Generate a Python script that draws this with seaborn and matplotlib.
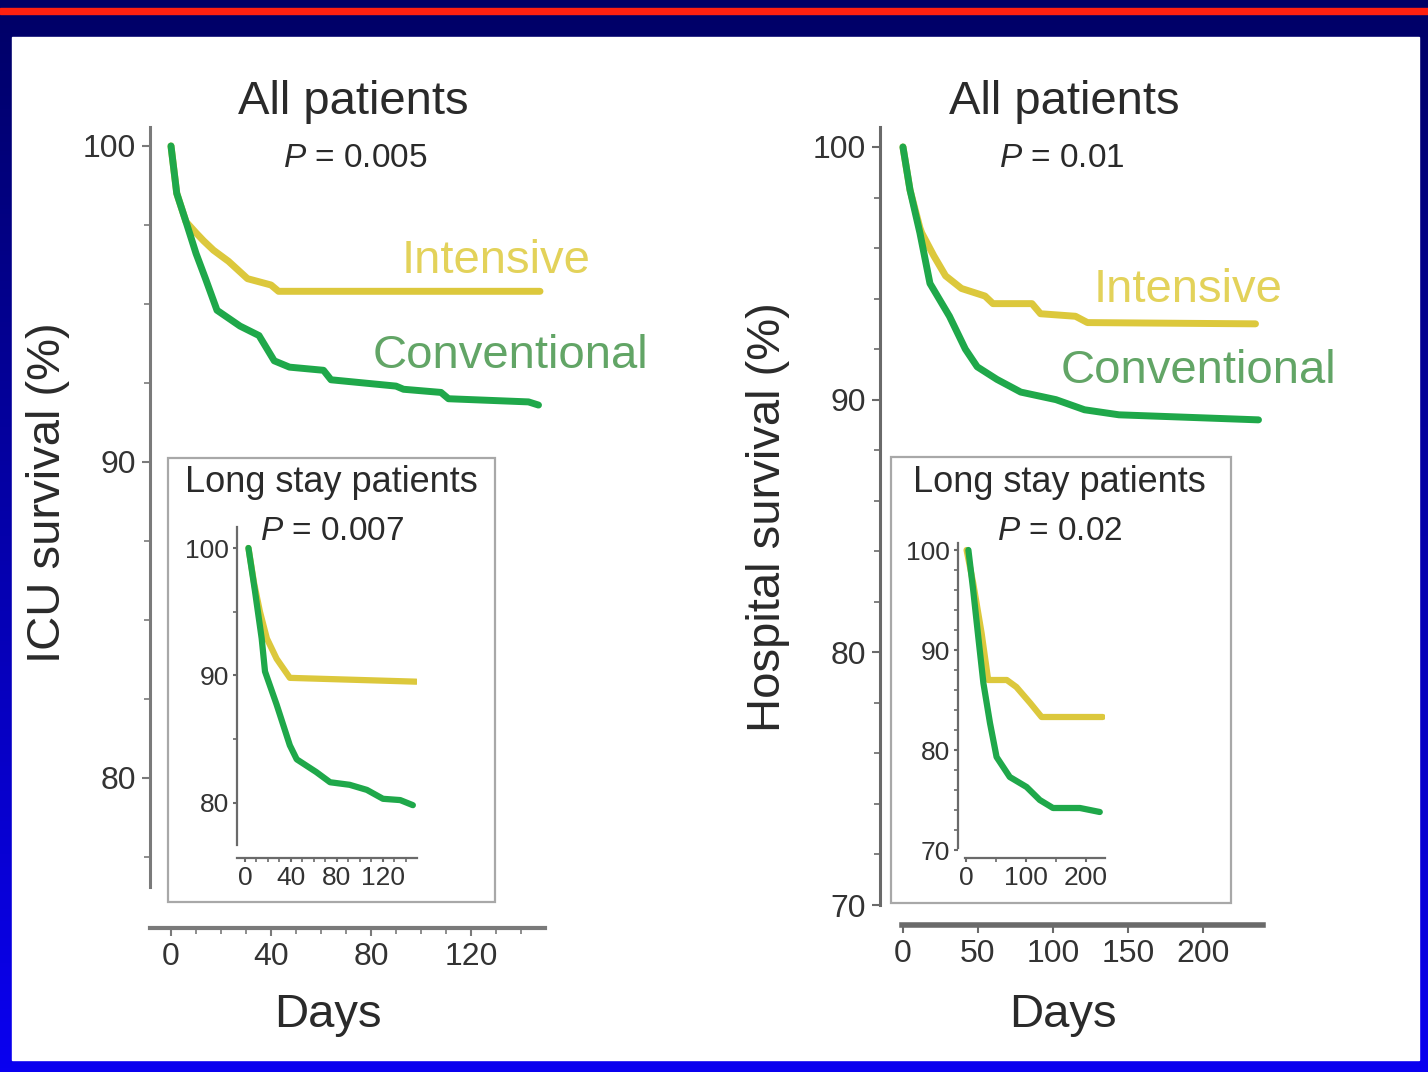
import numpy as np
import matplotlib
matplotlib.use('Agg')
import matplotlib.pyplot as plt
from matplotlib.patches import Rectangle
from matplotlib.colors import LinearSegmentedColormap
from matplotlib.ticker import MultipleLocator
import seaborn as sns

sns.set_style('ticks')
plt.rcParams['font.family'] = ['Liberation Sans', 'DejaVu Sans']
plt.rcParams['mathtext.fontset'] = 'custom'
plt.rcParams['mathtext.it'] = 'Liberation Sans:italic'
plt.rcParams['mathtext.rm'] = 'Liberation Sans'

# ICU survival, all patients
icu_conv_days = [0, 2.3, 6, 10, 13.8, 18.4, 27.6, 35.2, 41.3, 47.4, 61, 64, 90, 93, 108, 111, 143, 147]
icu_conv_surv = [100, 98.5, 97.6, 96.6, 95.8, 94.8, 94.3, 94.0, 93.2, 93.0, 92.9, 92.6, 92.4, 92.3, 92.2, 92.0, 91.9, 91.8]
icu_int_days = [0, 2.3, 6, 10, 13, 17, 23, 30.6, 40, 43, 147.6]
icu_int_surv = [100, 98.5, 97.6, 97.25, 97.0, 96.7, 96.35, 95.8, 95.6, 95.4, 95.4]

# ICU survival, long stay patients (inset)
icu_long_conv_days = [3, 8.7, 14.5, 17.4, 27.5, 39, 45, 62, 74, 91, 106, 120, 135, 146]
icu_long_conv_surv = [100, 96.6, 92.9, 90.3, 87.7, 84.5, 83.4, 82.4, 81.6, 81.4, 81.0, 80.3, 80.2, 79.8]
icu_long_int_days = [3, 8, 13, 19, 27.5, 39, 149]
icu_long_int_surv = [100, 97.2, 95.0, 92.9, 91.3, 89.8, 89.5]

# Hospital survival, all patients
hosp_conv_days = [0, 4.7, 11.3, 18, 31, 41.6, 49.5, 62.7, 78.5, 102, 121, 144, 237]
hosp_conv_surv = [100, 98.3, 96.6, 94.6, 93.3, 92.0, 91.3, 90.8, 90.3, 90.0, 89.6, 89.4, 89.2]
hosp_int_days = [0, 4.7, 11.3, 12.5, 20.5, 28.4, 39, 54.7, 60, 86, 91.7, 115, 123, 235]
hosp_int_surv = [100, 98.3, 96.8, 96.6, 95.7, 94.9, 94.4, 94.1, 93.8, 93.8, 93.4, 93.3, 93.05, 93.0]

# Hospital survival, long stay patients (inset)
hosp_long_conv_days = [4, 12, 20.5, 29, 40, 51, 73, 101, 123, 145, 190, 223]
hosp_long_conv_surv = [100, 96, 91.3, 86.7, 82.7, 79.3, 77.3, 76.3, 75.0, 74.2, 74.2, 73.8]
hosp_long_int_days = [1, 12, 26, 37, 68, 84, 107, 126, 228]
hosp_long_int_surv = [100, 96.7, 91.7, 87, 87, 86.3, 84.7, 83.3, 83.3]

YELLOW = '#dcc83c'
GREEN = '#1fa84a'
YELLOW_TXT = '#e3d25a'
GREEN_TXT = '#62a566'
TXT = '#2a2a2a'

W, H = 1428, 1072
fig = plt.figure(figsize=(W / 100, H / 100), dpi=100)


def rect(x0, y0, x1, y1):
    return [x0 / W, 1 - y1 / H, (x1 - x0) / W, (y1 - y0) / H]


def put(x, y, s, **kw):
    kw.setdefault('ha', 'center')
    kw.setdefault('va', 'baseline')
    kw.setdefault('color', TXT)
    fig.text(x / W, 1 - y / H, s, **kw)


# slide background
bg = fig.add_axes([0, 0, 1, 1])
cmap = LinearSegmentedColormap.from_list('bg', ['#000066', '#0a00f0'])
bg.imshow(np.linspace(0, 1, 256).reshape(-1, 1), cmap=cmap, extent=[0, W, H, 0], aspect='auto')
bg.add_patch(Rectangle((0, 8), W, 6, color='#ff2010'))
bg.add_patch(Rectangle((12, 37), 1407, 1023, color='white'))
bg.add_patch(Rectangle((168, 458), 327, 444, fill=False, ec='#a8a8a8', lw=1.6))
bg.add_patch(Rectangle((891, 457), 340, 446, fill=False, ec='#a8a8a8', lw=1.6))
bg.set_xlim(0, W)
bg.set_ylim(H, 0)
bg.axis('off')


def setup(ax, xlim, ylim, xb, yb, xmaj, xmin, ymaj, ymin, size, spine_c, spine_w, xspine_w=None):
    ax.set_facecolor('none')
    ax.set_xlim(*xlim)
    ax.set_ylim(*ylim)
    ax.spines['top'].set_visible(False)
    ax.spines['right'].set_visible(False)
    ax.spines['left'].set_bounds(*yb)
    ax.spines['bottom'].set_bounds(*xb)
    ax.spines['left'].set_color(spine_c)
    ax.spines['bottom'].set_color(spine_c)
    ax.spines['left'].set_linewidth(spine_w)
    ax.spines['bottom'].set_linewidth(xspine_w or spine_w)
    ax.set_xticks(xmaj)
    ax.set_yticks(ymaj)
    ax.xaxis.set_minor_locator(MultipleLocator(xmin))
    ax.yaxis.set_minor_locator(MultipleLocator(ymin))
    ax.tick_params(which='major', labelsize=size, labelcolor='#333333', color=spine_c,
                   length=6, width=1.5, pad=4)
    ax.tick_params(which='minor', color=spine_c, length=4, width=1.2)
    ax.set_xlabel('')
    ax.set_ylabel('')
    ax.grid(False)


def curves(ax, d1, s1, d2, s2, lw):
    sns.lineplot(x=d1, y=s1, ax=ax, color=YELLOW, lw=lw, estimator=None, sort=False)
    sns.lineplot(x=d2, y=s2, ax=ax, color=GREEN, lw=lw, estimator=None, sort=False)


# left: ICU survival
ax1 = fig.add_axes(rect(150, 127, 545, 928))
curves(ax1, icu_int_days, icu_int_surv, icu_conv_days, icu_conv_surv, 5)
setup(ax1, (-8.4, 149.6), (75.25, 100.6), (-8.4, 149.6), (76.55, 100.6),
      [0, 40, 80, 120], 10, [80, 90, 100], 2.5, 23, '#7a7a7a', 2.2, 3)

ax1i = fig.add_axes(rect(237, 527, 417, 858))
curves(ax1i, icu_long_int_days, icu_long_int_surv, icu_long_conv_days, icu_long_conv_surv, 4.5)
setup(ax1i, (-6.96, 149.6), (75.65, 101.65), (-6.96, 149.6), (76.7, 101.65),
      [0, 40, 80, 120], 10, [80, 90, 100], 5, 19, '#6a6a6a', 1.6)
ax1i.tick_params(which='both', length=3, pad=3)

# right: hospital survival
ax2 = fig.add_axes(rect(880, 127, 1263, 925))
curves(ax2, hosp_int_days, hosp_int_surv, hosp_conv_days, hosp_conv_surv, 5)
setup(ax2, (-15.3, 240), (69.21, 100.79), (-0.7, 240), (70, 100.79),
      [0, 50, 100, 150, 200], 50, [70, 80, 90, 100], 2, 23, '#6a6a6a', 2.2, 4)

ax2i = fig.add_axes(rect(958, 543, 1105, 858))
curves(ax2i, hosp_long_int_days, hosp_long_int_surv, hosp_long_conv_days, hosp_long_conv_surv, 4.5)
setup(ax2i, (-13.3, 231.7), (69.2, 100.7), (-1.7, 231.7), (70.2, 100.7),
      [0, 100, 200], 50, [70, 80, 90, 100], 2, 19, '#6a6a6a', 1.6)
ax2i.tick_params(which='both', length=3, pad=3)

# texts, left panel
put(353, 114, 'All patients', fontsize=34)
put(355, 167, r'$\mathit{P}$ = 0.005', fontsize=24)
put(496, 273, 'Intensive', fontsize=34, color=YELLOW_TXT)
put(510, 368, 'Conventional', fontsize=34, color=GREEN_TXT)
put(48, 493, 'ICU survival (%)', fontsize=34, rotation=90, va='center')
put(328, 1027, 'Days', fontsize=34)
put(331, 492, 'Long stay patients', fontsize=26)
put(332, 540, r'$\mathit{P}$ = 0.007', fontsize=24)

# texts, right panel
put(1064, 114, 'All patients', fontsize=34)
put(1062, 167, r'$\mathit{P}$ = 0.01', fontsize=24)
put(1188, 302, 'Intensive', fontsize=34, color=YELLOW_TXT)
put(1198, 383, 'Conventional', fontsize=34, color=GREEN_TXT)
put(768, 517, 'Hospital survival (%)', fontsize=34, rotation=90, va='center')
put(1063, 1027, 'Days', fontsize=34)
put(1059, 492, 'Long stay patients', fontsize=26)
put(1060, 540, r'$\mathit{P}$ = 0.02', fontsize=24)

fig.savefig('out.png', dpi=100)
